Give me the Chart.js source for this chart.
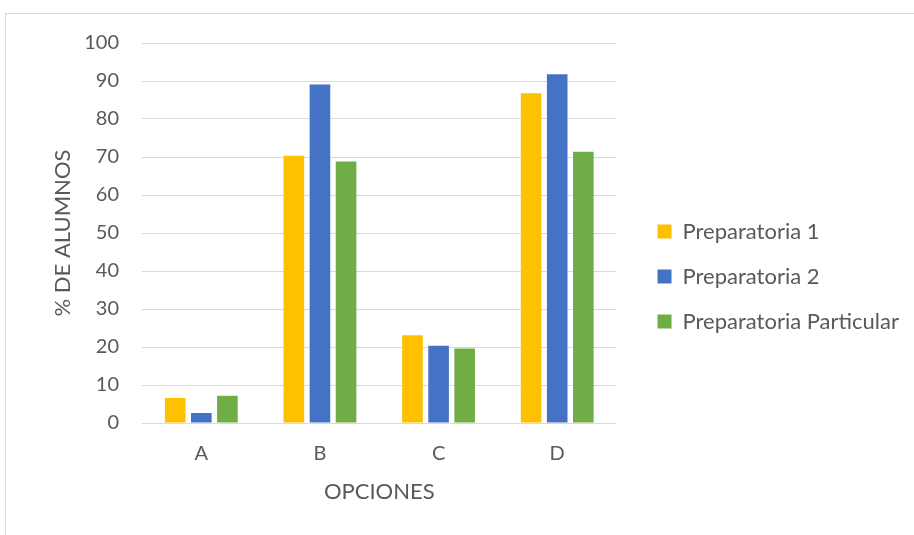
<!DOCTYPE html>
<html>
<head>
<meta charset="utf-8">
<script src="https://cdn.jsdelivr.net/npm/chart.js@4/dist/chart.umd.min.js"></script>
<style>
  html, body { margin: 0; padding: 0; background: #ffffff; }
  #frame {
    position: absolute; left: 5px; top: 13px; right: 0; bottom: 0;
    border-top: 1px solid #d9d9d9; border-left: 1px solid #d9d9d9;
  }
  #wrap { position: absolute; left: 0; top: 0; width: 914px; height: 535px; }
</style>
</head>
<body>
<div id="frame"></div>
<div id="wrap"><canvas id="chart" width="914" height="535"></canvas></div>
<script>
// Survey answers per option, in percent of students
const categories = ['A', 'B', 'C', 'D'];
const seriesNames = ['Preparatoria 1', 'Preparatoria 2', 'Preparatoria Particular'];
const prepa1 = [6.6, 70.3, 23.1, 86.8];
const prepa2 = [2.6, 89.1, 20.3, 91.8];
const prepaParticular = [7.2, 68.8, 19.6, 71.4];
const yTickValues = [0, 10, 20, 30, 40, 50, 60, 70, 80, 90, 100];

const seriesColors = ['#FFC000', '#4472C4', '#70AD47'];
const textColor = '#595959';
const gridColor = '#D9D9D9';
const fontFamily = "Lato, 'Open Sans', sans-serif";

const datasets = [prepa1, prepa2, prepaParticular].map((values, i) => ({
  label: seriesNames[i],
  data: values,
  backgroundColor: seriesColors[i],
  borderWidth: 0,
  categoryPercentage: 0.66,
  barPercentage: 0.79
}));

new Chart(document.getElementById('chart'), {
  type: 'bar',
  data: { labels: categories, datasets },
  options: {
    responsive: false,
    animation: false,
    layout: { padding: { left: 40, top: 43, right: 5, bottom: 25 } },
    plugins: {
      tooltip: { enabled: false },
      legend: {
        position: 'right',
        align: 'center',
        maxWidth: 400,
        labels: {
          boxWidth: 14,
          boxHeight: 14,
          padding: 23,
          color: textColor,
          font: { family: fontFamily, size: 22 }
        }
      }
    },
    scales: {
      x: {
        grid: { display: false, drawTicks: false },
        border: { display: false },
        ticks: { color: textColor, padding: 19, font: { family: fontFamily, size: 20 } },
        title: {
          display: true, text: 'OPCIONES', color: textColor,
          font: { family: fontFamily, size: 22 },
          padding: { top: 13, bottom: 5 }
        },
        afterFit: (scale) => { scale.height = 87; }
      },
      y: {
        min: 0, max: 100,
        afterBuildTicks: (scale) => { scale.ticks = yTickValues.map(v => ({ value: v })); },
        grid: { color: gridColor, lineWidth: 1, drawTicks: false },
        border: { display: false },
        ticks: { color: textColor, padding: 23, font: { family: fontFamily, size: 20 } },
        title: {
          display: true, text: '% DE ALUMNOS', color: textColor,
          font: { family: fontFamily, size: 22 },
          padding: { top: 10, bottom: 8 }
        },
        afterFit: (scale) => { scale.width = 102; }
      },
      // empty spacer between the plot and the legend
      gap: {
        position: 'right',
        display: true,
        grid: { display: false, drawTicks: false },
        border: { display: false },
        ticks: { display: false },
        afterFit: (scale) => { scale.width = 18; }
      }
    }
  }
});
</script>
</body>
</html>
